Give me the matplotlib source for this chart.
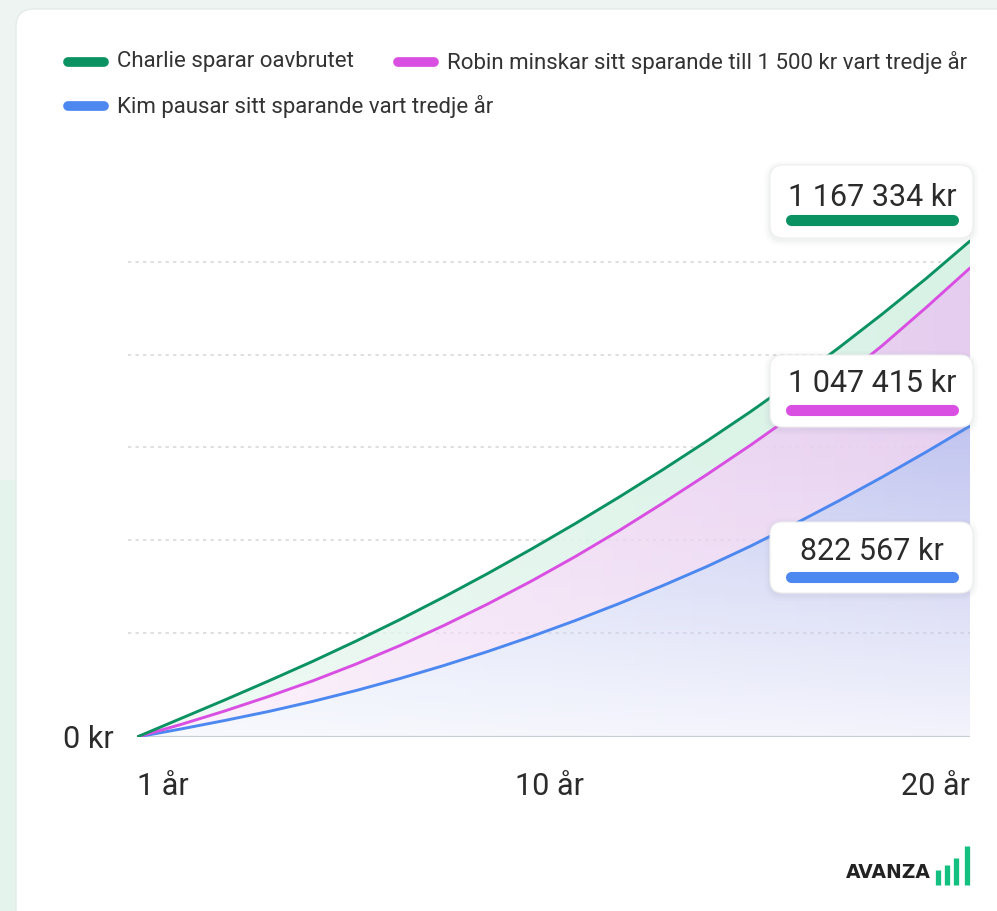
import numpy as np
import matplotlib.pyplot as plt
import matplotlib.transforms as mtransforms
from matplotlib.patches import FancyBboxPatch
from matplotlib.colors import to_rgb

plt.rcParams['font.family'] = ['Roboto', 'DejaVu Sans']

# data (kr per year)
ar = list(range(1, 21))
charlie = [0, 43540, 87080, 131800, 177690, 225940, 276540, 329490, 384800, 442460,
           502470, 564840, 629560, 696640, 766070, 839030, 915510, 995530, 1079080, 1167334]
robin = [0, 29420, 61190, 95320, 131800, 171810, 215340, 262420, 313020, 367150,
         424800, 486000, 550720, 617800, 687220, 760180, 837850, 921400, 1010830, 1103800]
kim = [0, 18830, 38830, 60010, 83550, 109440, 137680, 168280, 201220, 236530,
       274180, 314190, 356560, 401280, 449520, 501300, 555430, 611910, 670750, 731940]

namn = ["Charlie sparar oavbrutet",
        "Robin minskar sitt sparande till 1 500 kr vart tredje år",
        "Kim pausar sitt sparande vart tredje år"]
slutvarden = ["1 167 334 kr", "1 047 415 kr", "822 567 kr"]
grid_kr = [245000, 463500, 682500, 899000, 1118000]
xtick_pos = [1, 10, 20]
xtick_lab = ["1 år", "10 år", "20 år"]

GREEN = "#0b9262"
PINK = "#d94fe2"
BLUE = "#4c88f0"
TXT = "#2b2b2b"

W, H = 997, 911
fig = plt.figure(figsize=(W / 100, H / 100), dpi=100)
fig.patch.set_facecolor("#eef4f2")

# background card
bg = fig.add_axes([0, 0, 1, 1], zorder=0)
bg.set_xlim(0, W)
bg.set_ylim(H, 0)
bg.axis("off")
bg.fill_between([0, 16], 480, H, color="#e4f4ec", lw=0)
card = FancyBboxPatch((16, 9), 1200, 1200, boxstyle="round,pad=0,rounding_size=18",
                      fc="white", ec="#e3ebe8", lw=1)
bg.add_patch(card)

# chart axes: 1 år at x=137px, 20 år at x=970px, 0 kr at y=737px
kr_per_px = 1167334 / 496
x0, x1, yb, yt = 137, 970, 737, 140
ax = fig.add_axes([x0 / W, (H - yb) / H, (x1 - x0) / W, (yb - yt) / H], zorder=1)
ax.patch.set_alpha(0)
ymax = (yb - yt) * kr_per_px
ax.set_xlim(1, 20)
ax.set_ylim(0, ymax)
for s in ax.spines.values():
    s.set_visible(False)

for g in grid_kr:
    ax.axhline(g, xmin=-0.011, xmax=1, color="#d9d9d9", lw=1.2,
               ls=(0, (2, 2.5)), clip_on=False, zorder=0)
ax.axhline(0, color="#c9cdd6", lw=1.6, zorder=3)


def gradient_fill(upper, lower, c_left, c_right, a_low, a_high, h_full):
    poly = ax.fill_between(ar, lower, upper, facecolor="none", lw=0)
    nx, ny = 200, 200
    xs = np.linspace(0, 1, nx)
    ys = np.linspace(0, ymax, ny)
    cl, cr = np.array(to_rgb(c_left)), np.array(to_rgb(c_right))
    img = np.zeros((ny, nx, 4))
    img[..., :3] = cl[None, None, :] * (1 - xs[None, :, None]) + cr[None, None, :] * xs[None, :, None]
    a = a_low + (a_high - a_low) * np.clip(ys / (h_full * kr_per_px), 0, 1)
    img[..., 3] = a[:, None]
    im = ax.imshow(img, extent=[1, 20, 0, ymax], origin="lower", aspect="auto",
                   interpolation="bilinear", zorder=1)
    im.set_clip_path(poly.get_paths()[0], transform=ax.transData)


gradient_fill(charlie, robin, "#e6f7ef", "#d9f2e6", 0.6, 1.0, 300)
gradient_fill(robin, kim, "#fae6f9", "#e5cdef", 0.5, 1.0, 350)
gradient_fill(kim, [0] * 20, "#dbe4fa", "#c3c6f0", 0.2, 1.0, 300)

ax.plot(ar, kim, color=BLUE, lw=2.1, zorder=4, solid_capstyle="round")
ax.plot(ar, robin, color=PINK, lw=2.1, zorder=4, solid_capstyle="round")
ax.plot(ar, charlie, color=GREEN, lw=2.1, zorder=4, solid_capstyle="round")

ax.set_yticks([0])
ax.set_yticklabels(["0 kr"], fontsize=22, color=TXT)
ax.set_xticks(xtick_pos)
ax.set_xticklabels(xtick_lab, fontsize=22, color=TXT)
ax.tick_params(length=0)
ax.tick_params(axis="y", pad=17)
ax.tick_params(axis="x", pad=25)
labs = ax.get_xticklabels()
labs[0].set_ha("left")
labs[2].set_ha("right")
labs[1].set_transform(labs[1].get_transform() +
                      mtransforms.ScaledTranslation(0.18, 0, fig.dpi_scale_trans))

# foreground: legend, value boxes, logo
fg = fig.add_axes([0, 0, 1, 1], zorder=2)
fg.patch.set_alpha(0)
fg.set_xlim(0, W)
fg.set_ylim(H, 0)
fg.axis("off")

leg = [(68, 62, GREEN, namn[0]), (398, 62, PINK, namn[1]), (68, 106, BLUE, namn[2])]
for lx, ly, c, t in leg:
    fg.plot([lx, lx + 36], [ly, ly], color=c, lw=7, solid_capstyle="round")
    fg.text(lx + 49, ly, t, fontsize=16, color="#333333", va="center", ha="left")

boxes = [(165, 238, 197, 220, GREEN), (355, 427, 384, 410, PINK), (522, 593, 552, 577, BLUE)]
for (top, bot, ty, by, c), t in zip(boxes, slutvarden):
    for k, al in [(6, 0.025), (4, 0.035), (2, 0.05)]:
        fg.add_patch(FancyBboxPatch((770 - k, top - k + 2), 203 + 2 * k, bot - top + 2 * k,
                                    boxstyle="round,pad=0,rounding_size=%d" % (13 + k),
                                    fc="#8a96a0", ec="none", alpha=al))
    fg.add_patch(FancyBboxPatch((770, top), 203, bot - top,
                                boxstyle="round,pad=0,rounding_size=13",
                                fc="white", ec="#eeeeee", lw=0.8))
    fg.text(872, ty, t, fontsize=22, color=TXT, ha="center", va="center")
    fg.plot([791, 953], [by, by], color=c, lw=8, solid_capstyle="round")

fg.text(931, 873, "AVANZA", fontsize=13.5, fontweight="bold", color="#222222",
        family="DejaVu Sans", ha="right", va="center")
for bx, btop in [(938, 870), (947, 865), (956, 858), (967, 846)]:
    fg.plot([bx, bx], [btop, 885], color="#14c07f", lw=3.8, solid_capstyle="butt")

fig.savefig("out.png", dpi=100, facecolor=fig.get_facecolor())
